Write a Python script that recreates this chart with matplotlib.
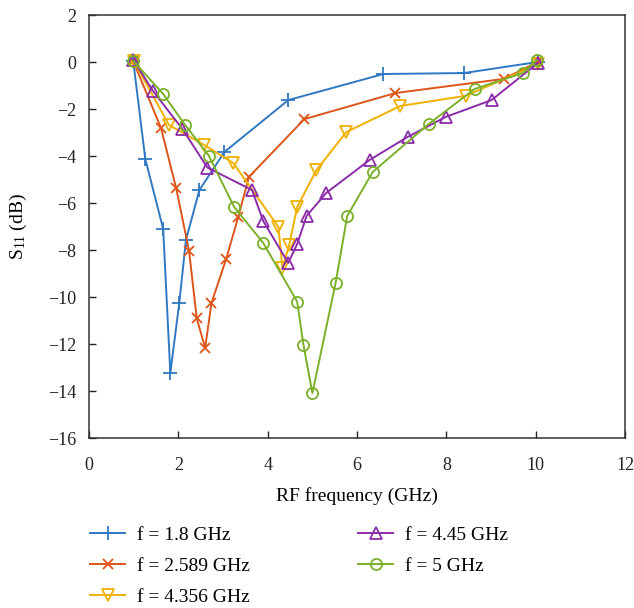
import matplotlib
matplotlib.use("Agg")
import matplotlib.pyplot as plt

plt.rcParams['font.family'] = ['Liberation Serif', 'DejaVu Serif']
plt.rcParams['mathtext.fontset'] = 'custom'
plt.rcParams['mathtext.rm'] = 'Liberation Serif'
plt.rcParams['mathtext.it'] = 'Liberation Serif:italic'

labels = ["f = 1.8 GHz", "f = 2.589 GHz", "f = 4.356 GHz", "f = 4.45 GHz", "f = 5 GHz"]
colors = ["#2F78C2", "#DD5519", "#F0B000", "#8B2CA8", "#7BB02A"]
markers = ["+", "x", "v", "^", "o"]

x_18 = [0.99, 1.26, 1.66, 1.82, 2.02, 2.17, 2.47, 3.03, 4.46, 6.59, 8.39, 10.04]
y_18 = [0.04, -4.13, -7.1, -13.23, -10.26, -7.57, -5.45, -3.83, -1.62, -0.51, -0.47, 0.0]

x_2589 = [0.99, 1.61, 1.95, 2.24, 2.41, 2.6, 2.74, 3.07, 3.34, 3.58, 4.82, 6.86, 9.28, 10.04]
y_2589 = [0.04, -2.8, -5.36, -8.04, -10.9, -12.17, -10.26, -8.38, -6.6, -4.89, -2.43, -1.32, -0.72, 0.0]

x_4356 = [1.0, 1.79, 2.58, 3.23, 4.24, 4.33, 4.48, 4.66, 5.09, 5.76, 6.97, 8.43, 10.04]
y_4356 = [0.05, -2.68, -3.53, -4.3, -7.02, -8.77, -7.79, -6.17, -4.6, -2.98, -1.87, -1.44, -0.1]

x_445 = [0.99, 1.43, 2.09, 2.65, 3.65, 3.9, 4.46, 4.66, 4.87, 5.31, 6.28, 7.13, 7.98, 9.01, 10.04]
y_445 = [0.1, -1.23, -2.85, -4.49, -5.45, -6.77, -8.55, -7.74, -6.55, -5.57, -4.17, -3.19, -2.34, -1.62, -0.05]

x_5 = [0.99, 1.66, 2.15, 2.68, 3.25, 3.9, 4.66, 4.8, 5.0, 5.52, 5.78, 6.35, 7.6, 8.63, 9.71, 10.02]
y_5 = [0.05, -1.36, -2.68, -3.98, -6.17, -7.7, -10.2, -12.04, -14.09, -9.4, -6.55, -4.68, -2.64, -1.15, -0.47, 0.08]

xs = [x_18, x_2589, x_4356, x_445, x_5]
ys = [y_18, y_2589, y_4356, y_445, y_5]

fig = plt.figure(figsize=(6.34, 6.08), dpi=100)
ax = fig.add_axes([0.1404, 0.2796, 0.8456, 0.6957])

sizes = [10, 7, 9, 9, 8]
for x, y, c, m, lab, ms in zip(xs, ys, colors, markers, labels, sizes):
    if m in ("+", "x"):
        ax.plot(x, y, color=c, marker=m, ms=ms, lw=1.4, mew=1.3, label=lab)
    else:
        ax.plot(x, y, color=c, marker=m, ms=ms, lw=1.4, mew=1.3, mfc='none', label=lab)

ax.set_xlim(0, 12)
ax.set_ylim(-16, 2)
ax.set_xticks(range(0, 13, 2))
ax.set_yticks(range(-16, 3, 2))
ax.set_yticklabels([("\u2212%d" % abs(v)) if v < 0 else str(v) for v in range(-16, 3, 2)])
ax.tick_params(direction='in', length=5, width=1, labelsize=13, colors='#222222')
ax.tick_params(axis='x', pad=14)
ax.tick_params(axis='y', pad=9)
for s in ax.spines.values():
    s.set_color('#333333')
    s.set_linewidth(1.1)

ax.set_xlabel("RF frequency (GHz)", fontsize=14, labelpad=9)
ax.set_ylabel("S$_{11}$ (dB)", fontsize=14, labelpad=14)

leg = fig.legend(loc='upper left', bbox_to_anchor=(0.142, 0.134), ncol=2, frameon=False,
                 fontsize=14, columnspacing=5.6, handlelength=1.8, handletextpad=0.6,
                 labelspacing=0.68, borderpad=0, borderaxespad=0,
                 bbox_transform=fig.transFigure)

fig.savefig("out.png", dpi=100)
